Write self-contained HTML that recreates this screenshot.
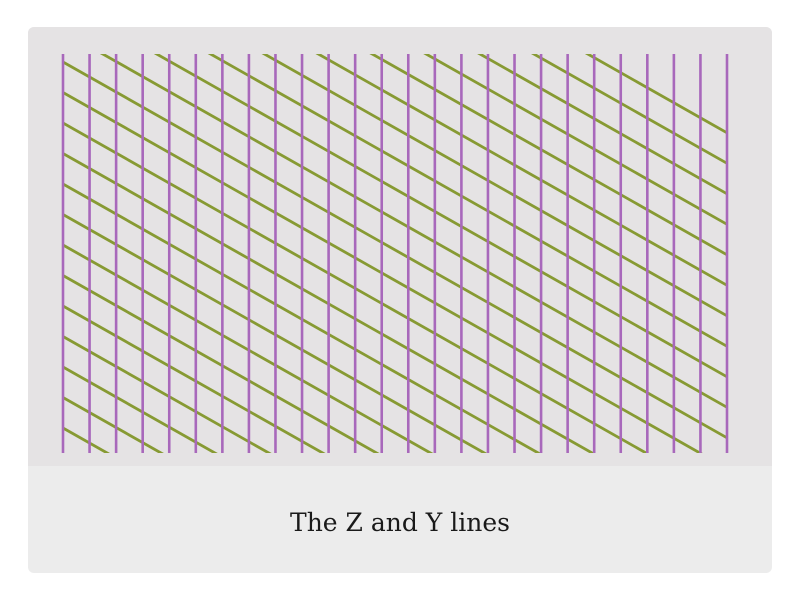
<!DOCTYPE html>
<html><head><meta charset="utf-8"><style>
html,body{margin:0;padding:0;background:#fff;width:800px;height:600px;overflow:hidden;position:relative}
#card{position:absolute;left:28px;top:27px;width:744px;height:546px;border-radius:6px;background:#ececec;overflow:hidden}
#top{position:absolute;left:0;top:0;width:744px;height:439px;background:#e5e3e4}
#cap{position:absolute;left:0;top:479px;width:744px;text-align:center;font-family:"DejaVu Serif","Liberation Serif",serif;font-size:25px;line-height:34px;color:#1a1a1a}
svg{position:absolute;left:0;top:0;overflow:hidden}
</style></head><body>
<div id="card">
<div id="top"></div>
<div id="cap">The Z and Y lines</div>
</div>
<svg id="chart" width="800" height="600">
<defs><clipPath id="clip"><rect x="63" y="54" width="664" height="399"/></clipPath></defs>
<g id="zlines" clip-path="url(#clip)"></g>
<g id="ylines"></g>
</svg>
<script>
// Y lines: vertical line indices
const yLineIndex = [0,1,2,3,4,5,6,7,8,9,10,11,12,13,14,15,16,17,18,19,20,21,22,23,24,25];
// Z lines: left-edge intercept indices
const zLineIndex = [-10,-9,-8,-7,-6,-5,-4,-3,-2,-1,0,1,2,3,4,5,6,7,8,9,10,11,12];
const zSlope = 0.566;

const x0 = 63, x1 = 727, yTop = 54, yBot = 453;
const xStep = (x1 - x0) / (yLineIndex.length - 1);
const zStep = 30.5, zBase = 62;
const xScale = i => x0 + i * xStep;
const zScale = k => zBase + k * zStep;
const NS = 'http://www.w3.org/2000/svg';
const zg = document.getElementById('zlines');
const yg = document.getElementById('ylines');
zLineIndex.forEach(k => {
  const l = document.createElementNS(NS, 'line');
  
  
  const ya = zScale(k);
  l.setAttribute('x1', x0); l.setAttribute('y1', ya);
  l.setAttribute('x2', x1); l.setAttribute('y2', ya + zSlope * (x1 - x0));
  l.setAttribute('stroke', '#879a33'); l.setAttribute('stroke-width', '2.8');
  zg.appendChild(l);
});
yLineIndex.forEach(i => {
  const l = document.createElementNS(NS, 'line');
  
  
  const x = xScale(i);
  l.setAttribute('x1', x); l.setAttribute('x2', x);
  l.setAttribute('y1', yTop); l.setAttribute('y2', yBot);
  l.setAttribute('stroke', '#a868bb'); l.setAttribute('stroke-width', '2.6');
  yg.appendChild(l);
});
</script>
</body></html>
